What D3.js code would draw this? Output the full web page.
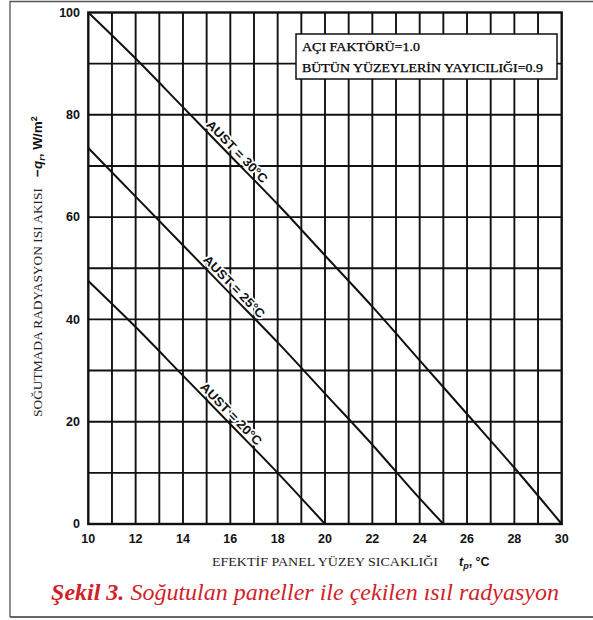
<!DOCTYPE html>
<html><head><meta charset="utf-8">
<script src="https://cdn.jsdelivr.net/npm/d3@7"></script>
<style>body{margin:0;background:#fff}svg{display:block}</style>
</head><body>
<svg id="c" width="593" height="620"></svg>
<script>
const xTicks = [10,12,14,16,18,20,22,24,26,28,30];
const yTicks = [0,20,40,60,80,100];
const seriesNames = ["AUST = 30°C","AUST = 25°C","AUST = 20°C"];
// values at tp = 10, 12, 14, ...
const tp30 = [10,12,14,16,18,20,22,24,26,28,30];
const q30  = [100,91,81.5,72,62.5,52.5,42.5,32,21.5,11,0];
const tp25 = [10,12,14,16,18,20,22,24,25];
const q25  = [73.5,64,54.5,45,35.5,25.5,15.5,5,0];
const tp20 = [10,12,14,16,18,20];
const q20  = [47.5,38.5,29,19.5,10,0];
// where along each curve its label sits (tp)
const labelX = [16.05,15.93,15.8];
const legendLines = ["AÇI FAKTÖRÜ=1.0","BÜTÜN YÜZEYLERİN YAYICILIĞI=0.9"];
const xTitle = "EFEKTİF PANEL YÜZEY SICAKLIĞI";
const yTitle = "SOĞUTMADA RADYASYON ISI AKISI";
const captionBold = "Şekil 3.";
const captionText = " Soğutulan paneller ile çekilen ısıl radyasyon";

const svg = d3.select("#c");
const x = d3.scaleLinear().domain([10,30]).range([88.3,561.7]);
const y = d3.scaleLinear().domain([0,100]).range([524,12.5]);

// outer frame
svg.append("path").attr("d","M10,617 L10,1.5 L593,1.5").attr("fill","none").attr("stroke","#555").attr("stroke-width",1.3);
svg.append("line").attr("x1",10).attr("x2",593).attr("y1",617).attr("y2",617).attr("stroke","#333").attr("stroke-width",1.5);

const g = svg.append("g");
g.selectAll(".vg").data(d3.range(11,30)).join("line")
  .attr("x1",d=>x(d)).attr("x2",d=>x(d)).attr("y1",y(100)).attr("y2",y(0))
  .attr("stroke","#111").attr("stroke-width",1.9);
g.selectAll(".hg").data(d3.range(10,100,10)).join("line")
  .attr("x1",x(10)).attr("x2",x(30)).attr("y1",d=>y(d)).attr("y2",d=>y(d))
  .attr("stroke","#111").attr("stroke-width",1.9);
g.append("rect").attr("x",x(10)).attr("y",y(100)).attr("width",x(30)-x(10)).attr("height",y(0)-y(100))
  .attr("fill","none").attr("stroke","#111").attr("stroke-width",2.4);

// legend box
const lg = svg.append("g");
lg.append("rect").attr("x",296).attr("y",34).attr("width",261).attr("height",45)
  .attr("fill","#fff").attr("stroke","#111").attr("stroke-width",1.5);
lg.selectAll("text").data(legendLines).join("text")
  .attr("x",302).attr("y",(d,i)=>51+i*20.5)
  .attr("font-family","Liberation Serif").attr("font-size",11.5).attr("fill","#000")
  .attr("stroke","#000").attr("stroke-width",0.25)
  .attr("textLength",(d,i)=>i?241:118).attr("lengthAdjust","spacingAndGlyphs")
  .text(d=>d);

// curves
const series = [d3.zip(tp30,q30), d3.zip(tp25,q25), d3.zip(tp20,q20)];
const lineGen = d3.line().x(d=>x(d[0])).y(d=>y(d[1])).curve(d3.curveMonotoneX);

// labels sitting just above each curve, rotated to the local slope, with a white knock-out
const labG = svg.append("g");
series.forEach((s,i)=>{
  const xd = labelX[i];
  let k = s.findIndex(p=>p[0]>xd); if(k<1) k=1;
  const a = s[k-1], b = s[k];
  const t = (xd-a[0])/(b[0]-a[0]);
  const yd = a[1]+(b[1]-a[1])*t;
  const ang = Math.atan2(y(b[1])-y(a[1]), x(b[0])-x(a[0]))*180/Math.PI;
  labG.append("text")
    .attr("transform",`translate(${x(xd)},${y(yd)}) rotate(${ang})`)
    .attr("y",-3.5).attr("text-anchor","middle")
    .attr("font-family","Liberation Sans").attr("font-weight","bold").attr("font-size",12.5)
    .attr("fill","#111").attr("stroke","#fff").attr("stroke-width",3.5).attr("paint-order","stroke")
    .attr("stroke-linejoin","round")
    .attr("textLength",82).attr("lengthAdjust","spacingAndGlyphs")
    .text(seriesNames[i]);
});
svg.selectAll(".ln").data(series).join("path")
  .attr("d",lineGen).attr("fill","none").attr("stroke","#111").attr("stroke-width",2);

// tick labels
svg.selectAll(".yt").data(yTicks).join("text")
  .attr("x",80).attr("y",d=>y(d)).attr("dy","0.35em").attr("text-anchor","end")
  .attr("font-family","Liberation Sans").attr("font-weight","bold").attr("font-size",12.5).attr("fill","#111")
  .text(d=>d);
svg.selectAll(".xt").data(xTicks).join("text")
  .attr("x",d=>x(d)).attr("y",539).attr("dy","0.35em").attr("text-anchor","middle")
  .attr("font-family","Liberation Sans").attr("font-weight","bold").attr("font-size",12.5).attr("fill","#111")
  .text(d=>d);

// x title
svg.append("text").attr("x",212).attr("y",566)
  .attr("font-family","Liberation Serif").attr("font-size",11.5).attr("fill","#222")
  .attr("textLength",226).attr("lengthAdjust","spacingAndGlyphs").text(xTitle);
const xu = svg.append("text").attr("x",459).attr("y",566)
  .attr("font-family","Liberation Sans").attr("font-weight","bold").attr("font-size",12.5).attr("fill","#111");
xu.append("tspan").attr("font-style","italic").text("t");
xu.append("tspan").attr("font-style","italic").attr("font-size",9).attr("dy",3).text("p");
xu.append("tspan").attr("dy",-3).text(", °C");

// y title
svg.append("text").attr("transform","translate(42,417) rotate(-90)")
  .attr("font-family","Liberation Serif").attr("font-size",11.5).attr("fill","#222")
  .attr("textLength",229).attr("lengthAdjust","spacingAndGlyphs").text(yTitle);
const yu = svg.append("text").attr("transform","translate(42,177) rotate(-90)")
  .attr("font-family","Liberation Sans").attr("font-weight","bold").attr("font-size",13.5).attr("fill","#111");
yu.append("tspan").text("−");
yu.append("tspan").attr("font-style","italic").text("q");
yu.append("tspan").attr("font-style","italic").attr("font-size",9).attr("dy",3).text("r");
yu.append("tspan").attr("dy",-3).text(", W/m");
yu.append("tspan").attr("font-size",9).attr("dy",-5).text("2");

// caption
const cap = svg.append("text").attr("x",305).attr("y",600).attr("text-anchor","middle")
  .attr("font-family","Liberation Serif").attr("font-style","italic").attr("font-size",24).attr("fill","#d11f2b");
cap.append("tspan").attr("font-weight","bold").text(captionBold);
cap.append("tspan").text(captionText);
</script>
</body></html>
